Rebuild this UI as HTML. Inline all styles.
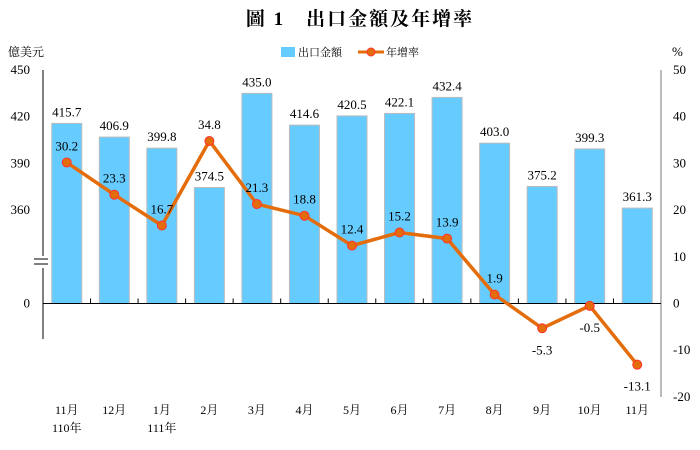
<!DOCTYPE html>
<html><head><meta charset="utf-8"><style>
body{margin:0;background:#fff;width:700px;height:445px;overflow:hidden}
text{font-family:"Liberation Serif","Noto Serif CJK SC",serif;fill:#000}
</style></head><body>
<svg id="c" width="700" height="445">
<text x="360" y="25" text-anchor="middle" font-size="19" font-weight="bold" letter-spacing="2">圖 1　出口金額及年增率</text>
<text x="8" y="56" font-size="12">億美元</text>
<text x="672" y="56" font-size="13">%</text>
<g>
<rect x="281" y="47" width="14" height="10" fill="#66CCFF"/>
<text x="298" y="56" font-size="11">出口金額</text>
<line x1="358" y1="52" x2="384" y2="52" stroke="#E46C0A" stroke-width="3"/>
<circle cx="371" cy="52" r="4" fill="#E46C0A" stroke="#FF3333"/>
<text x="386" y="56" font-size="11">年增率</text>
</g>
<g id="g"></g>
</svg>
<script>
const categories=["11月","12月","1月","2月","3月","4月","5月","6月","7月","8月","9月","10月","11月"];
const subLabels=["110年","","111年","","","","","","","","","",""];
const amounts=[415.7,406.9,399.8,374.5,435.0,414.6,420.5,422.1,432.4,403.0,375.2,399.3,361.3];
const growth=[30.2,23.3,16.7,34.8,21.3,18.8,12.4,15.2,13.9,1.9,-5.3,-0.5,-13.1];
const leftTicks=[450,420,390,360];
const rightTicks=[50,40,30,20,10,0,-10,-20];
const NS="http://www.w3.org/2000/svg";
const g=document.getElementById('g');
const X0=43,X1=661,Y0=303.5,PX=4.67;
const step=(X1-X0)/categories.length;
function xc(i){return X0+step*(i+0.5);}
function yp(p){return Y0-p*PX;}
function ya(v){return yp((v-300)/3);}
function el(t,a,txt){const e=document.createElementNS(NS,t);for(const k in a)e.setAttribute(k,a[k]);if(txt!=null)e.textContent=txt;g.appendChild(e);return e;}
amounts.forEach((v,i)=>{
 const b=el('rect',{x:xc(i)-15,y:ya(v),width:30,height:Y0-ya(v),fill:'#66CCFF',stroke:'#BBBBBB','stroke-width':1});
 
 
 const t=el('text',{x:xc(i),y:ya(v)-7,'text-anchor':'middle','font-size':13},v.toFixed(1));
 
 
});
let a=el('line',{x1:X0,y1:70,x2:X0,y2:256,stroke:'#000'});

a=el('line',{x1:X0,y1:268,x2:X0,y2:339,stroke:'#000'});

a=el('line',{x1:34,y1:259,x2:48,y2:259,stroke:'#000'});

a=el('line',{x1:34,y1:264,x2:48,y2:264,stroke:'#000'});

a=el('line',{x1:X1,y1:70,x2:X1,y2:397,stroke:'#777'});

a=el('line',{x1:X0,y1:Y0,x2:X1,y2:Y0,stroke:'#000'});

for(let i=1;i<categories.length;i++){a=el('line',{x1:X0+step*i,y1:Y0-5,x2:X0+step*i,y2:Y0,stroke:'#000'});
 }
leftTicks.forEach(v=>{const t=el('text',{x:30,y:ya(v)+4,'text-anchor':'end','font-size':13},v);
 });
a=el('text',{x:30,y:Y0+4,'text-anchor':'end','font-size':13},'0');

rightTicks.forEach(v=>{const t=el('text',{x:673,y:yp(v)+4,'font-size':13},v);
 });
categories.forEach((c,i)=>{const t=el('text',{x:xc(i),y:414,'text-anchor':'middle','font-size':12},c);
 
 if(subLabels[i]){const s=el('text',{x:xc(i),y:432,'text-anchor':'middle','font-size':12},subLabels[i]);
 }});
const ln=el('polyline',{points:growth.map((p,i)=>xc(i)+','+yp(p)).join(' '),fill:'none',stroke:'#E46C0A','stroke-width':3.5});

growth.forEach((p,i)=>{const c=el('circle',{cx:xc(i),cy:yp(p),r:4.5,fill:'#E46C0A',stroke:'#FF3333','stroke-width':1});
 
 const below=p<5;
 const t=el('text',{x:xc(i),y:below?yp(p)+26:yp(p)-12,'text-anchor':'middle','font-size':13},p.toFixed(1));
 if(i===9)t.setAttribute('y',yp(p)-12);
 });
</script>
</body></html>
